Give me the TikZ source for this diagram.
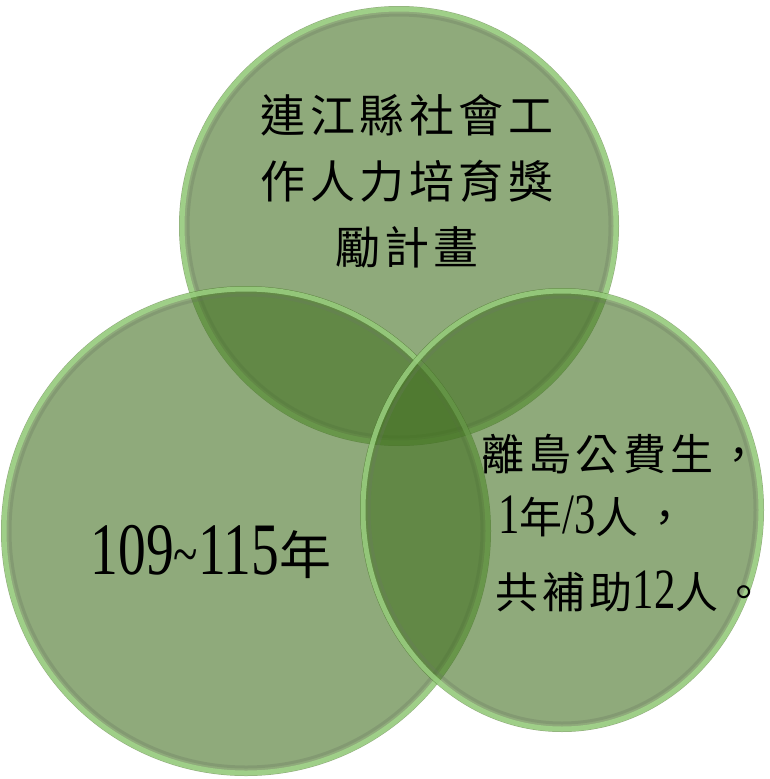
\documentclass[tikz,border=0pt]{standalone}
\usepackage{fontspec}
\setmainfont{Noto Sans CJK TC}
\newfontfamily\cjkfont[LetterSpace=10]{Noto Sans CJK TC}
\newfontfamily\numfont[FakeStretch=0.75]{Liberation Serif}
\newcommand{\dgt}[2]{{\numfont\fontsize{#1}{#1}\selectfont #2}}
\definecolor{venn}{RGB}{68,113,35}
\definecolor{rimlight}{RGB}{165,220,140}
\definecolor{rimdark}{RGB}{105,120,95}
\begin{document}
\begin{tikzpicture}[x=1pt, y=-1pt, line join=round, line cap=round,
	disc/.style={fill=venn, fill opacity=0.6},
	rimout/.style={draw=rimlight, line width=5pt, draw opacity=0.75},
	rimin/.style={draw=rimdark, line width=3pt, draw opacity=0.3},
	lbl/.style={inner sep=0pt, text=black, text opacity=1}]
	\useasboundingbox (0,0) rectangle (769,779);
	% top disc
	\fill[disc] (399,226) circle[radius=220pt];
	\draw[rimout] (399,226) circle[radius=217pt];
	\draw[rimin] (399,226) circle[radius=211pt];
	% left disc
	\fill[disc] (246,531) circle[radius=245pt];
	\draw[rimout] (246,531) circle[radius=242pt];
	\draw[rimin] (246,531) circle[radius=236pt];
	% right disc
	\fill[disc] (562,510) ellipse[x radius=202pt, y radius=222pt];
	\draw[rimout] (562,510) ellipse[x radius=199pt, y radius=219pt];
	\draw[rimin] (562,510) ellipse[x radius=193pt, y radius=213pt];
	% labels
	\node[lbl, align=center, font=\cjkfont\fontsize{45}{66}\selectfont] (plan) at (407,181) {連江縣社會工\\作人力培育獎\\勵計畫};
	\node[lbl, font=\cjkfont\fontsize{52}{52}\selectfont] (years) at (211,552) {\dgt{74}{109{\fontsize{60}{60}\selectfont\textasciitilde}115}年};
	\node[lbl, anchor=base west, font=\cjkfont\fontsize{43}{43}\selectfont] (isle) at (481,470) {離島公費生，};
	\node[lbl, anchor=base west, font=\cjkfont\fontsize{43}{43}\selectfont] (quota) at (498,533) {\dgt{57}{1}年\dgt{57}{/3}人，};
	\node[lbl, anchor=base west, font=\cjkfont\fontsize{43}{43}\selectfont] (total) at (495,608) {共補助\dgt{57}{12}人。};
\end{tikzpicture}
\end{document}
